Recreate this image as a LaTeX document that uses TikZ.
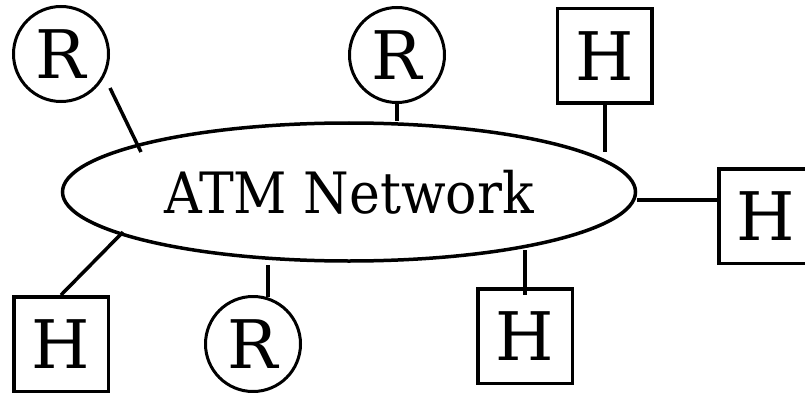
\documentclass[tikz,border=0pt]{standalone}
\usepackage{fontspec}
\usepackage{graphicx}
\setmainfont{DejaVu Serif}
\usetikzlibrary{shapes.geometric}
\begin{document}
\begin{tikzpicture}[x=1pt,y=-1pt,
  lw/.style={line width=3.5pt},
  router/.style={circle,draw,line width=3pt,minimum size=95pt,inner sep=0pt,font=\fontsize{67}{67}\selectfont},
  host/.style={rectangle,draw,lw,minimum size=94.5pt,inner sep=0pt,font=\fontsize{67}{67}\selectfont},
  net/.style={ellipse,draw,lw,minimum width=573pt,minimum height=138pt,inner sep=0pt,font=\fontsize{57}{57}\selectfont},
  link/.style={lw}]
\useasboundingbox (0,0) rectangle (805,393);
\clip (0,0) rectangle (805,393);
\node[net] (net) at (349,192) {\scalebox{0.915}[1]{ATM Network}};
\node[router] (R1) at (61,54) {R};
\node[router] (R2) at (397,55) {R};
\node[router] (R3) at (253,344) {R};
\node[host] (H1) at (604.5,56) {H};
\node[host] (H2) at (766,216) {H};
\node[host] (H3) at (61,344) {H};
\node[host] (H4) at (525,336) {H};
\coordinate (e1a) at (110,88);
\coordinate (e1b) at (141,152);
\coordinate (e2) at (397,121);
\coordinate (e3) at (605,152);
\coordinate (e4) at (637,200);
\coordinate (e5) at (123,232);
\coordinate (e6a) at (268,265);
\coordinate (e6b) at (268,297);
\coordinate (e7a) at (525,250);
\coordinate (e7b) at (525,295);
\draw[link] (e1a) -- (e1b);
\draw[link] (R2.south) -- (e2);
\draw[link] (H1.south -| e3) -- (e3);
\draw[link] (e4) -- (e4 -| H2.west);
\draw[link] (H3.north) -- (e5);
\draw[link] (e6a) -- (e6b);
\draw[link] (e7a) -- (e7b);
\end{tikzpicture}
\end{document}
